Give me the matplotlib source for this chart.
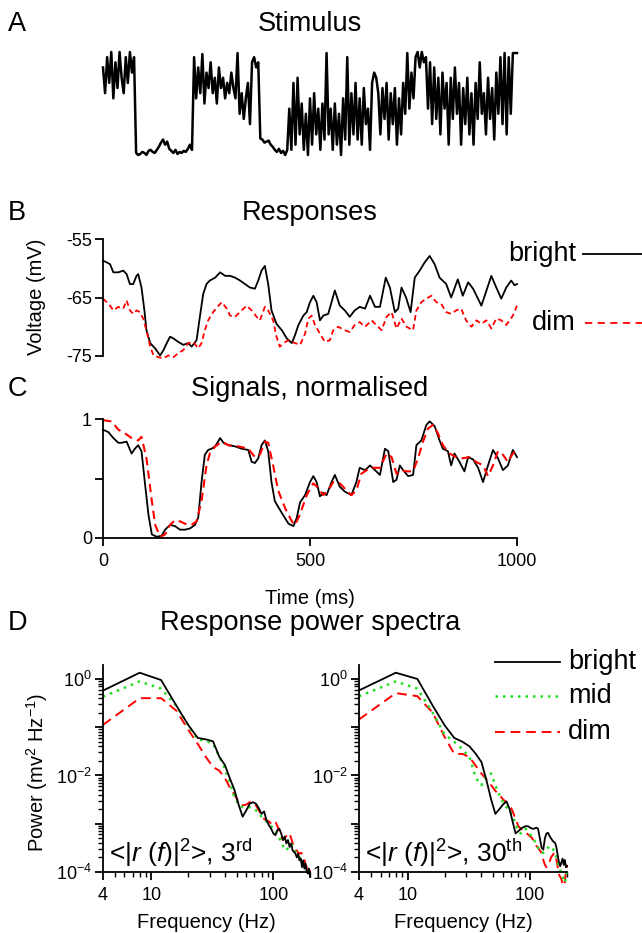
import numpy as np
import matplotlib
matplotlib.use("Agg")
import matplotlib.pyplot as plt
from matplotlib.lines import Line2D
from matplotlib.ticker import FixedLocator, NullFormatter, LogLocator

plt.rcParams['font.family'] = ['Liberation Sans', 'DejaVu Sans']
plt.rcParams['mathtext.fontset'] = 'custom'
plt.rcParams['mathtext.rm'] = 'Liberation Sans'
plt.rcParams['mathtext.it'] = 'Liberation Sans:italic'
plt.rcParams['mathtext.bf'] = 'Liberation Sans:bold'
plt.rcParams['axes.linewidth'] = 1.3

# ---------------- data ----------------
# A: stimulus (normalised intensity), sampled every 5 ms from 0 to 1000 ms
stimulus = [0.85, 0.6, 0.95, 0.7, 1.0, 0.55, 0.9, 0.65, 1.0, 0.75, 0.6, 0.95, 0.7, 1.0, 0.8, 0.95,
            0.02, 0.0, 0.01, 0.03, 0.02, 0.0, 0.04, 0.05, 0.03, 0.02, 0.05, 0.08, 0.12, 0.15, 0.1, 0.13,
            0.06, 0.04, 0.02, 0.05, 0.01, 0.03, 0.02, 0.04, 0.03, 0.06, 0.1, 0.05,
            0.95, 0.55, 0.85, 0.6, 0.98, 0.5, 0.8, 0.65, 0.9, 0.6, 0.75, 0.5, 0.85, 0.65, 0.75, 0.55,
            0.7, 0.6, 0.8, 0.65,
            0.55, 0.99, 0.4, 0.6, 0.35, 0.55, 0.7, 0.3, 0.9, 0.95, 0.85, 0.9,
            0.16, 0.15, 0.12, 0.13, 0.14, 0.1, 0.08, 0.05, 0.03, 0.06, 0.02, 0.04, 0.0, 0.05,
            0.45, 0.05, 0.7, 0.1, 0.75, 0.2, 0.5, 0.05, 0.4, 0.0,
            0.55, 0.1, 0.6, 0.2, 0.45, 0.05, 0.5, 0.15, 0.99, 0.2,
            0.45, 0.05, 0.5, 0.1, 0.4, 0.0, 0.55, 0.15, 0.95, 0.1,
            0.6, 0.2, 0.7, 0.15, 0.55, 0.1, 0.65, 0.3, 0.45, 0.05,
            0.7, 0.8, 0.75, 0.6, 0.2, 0.65, 0.35, 0.7, 0.15, 0.6,
            0.3, 0.65, 0.1, 0.55, 0.2, 0.7, 0.4, 0.99, 0.45, 0.8,
            0.55, 0.95, 1.0, 0.85, 1.0, 0.9, 0.95, 0.45, 0.9, 0.3,
            0.85, 0.35, 0.75, 0.2, 0.8, 0.45, 0.7, 0.1, 0.75, 0.35,
            0.85, 0.4, 0.7, 0.1, 0.65, 0.3, 0.75, 0.2, 0.6, 0.1,
            0.7, 0.35, 0.9, 0.4, 0.6, 0.2, 0.75, 0.35, 0.65, 0.15,
            0.8, 0.4, 0.95, 0.3, 0.99, 0.2, 0.95, 0.4, 0.99, 0.99, 0.99]

# B: responses (mV)
bright_resp_t = [0, 9, 17, 25, 37, 49, 57, 65, 73, 81, 85, 93, 100, 105, 114, 126, 138, 146, 154, 162,
                 170, 182, 194, 206, 214, 226, 234, 242, 250, 258, 271, 283, 295, 307, 319, 331, 343,
                 355, 367, 375, 383, 391, 399, 407, 419, 432, 444, 456, 464, 472, 484, 492, 500, 508,
                 516, 524, 532, 544, 560, 572, 584, 596, 608, 620, 633, 645, 657, 669, 683, 693, 705,
                 713, 721, 732, 743, 753, 765, 777, 789, 801, 813, 829, 841, 857, 869, 882, 894, 914,
                 938, 950, 962, 974, 986, 994, 1000]
bright_resp_v = [-58.7, -59.0, -59.3, -60.7, -60.7, -60.4, -61.0, -62.7, -62.7, -61.3, -61.0, -63.3,
                 -67.2, -70.6, -72.8, -73.7, -74.9, -74.0, -72.8, -71.7, -72.0, -72.6, -73.1, -72.8,
                 -73.4, -72.3, -68.3, -64.4, -62.7, -62.1, -61.6, -60.7, -61.3, -61.3, -61.6, -62.1,
                 -62.7, -63.3, -63.5, -62.1, -60.4, -59.6, -62.7, -67.2, -69.5, -70.6, -72.0, -72.8,
                 -71.4, -69.7, -68.1, -67.5, -65.8, -64.7, -65.8, -68.9, -68.1, -67.8, -63.8, -66.4,
                 -67.2, -68.3, -67.2, -66.6, -66.9, -64.7, -66.6, -66.6, -61.6, -63.3, -67.5, -66.9,
                 -63.3, -65.0, -67.5, -61.6, -60.4, -59.0, -57.9, -59.3, -61.6, -62.7, -65.0, -61.9,
                 -64.7, -62.4, -63.5, -66.4, -61.3, -63.3, -65.2, -63.3, -62.1, -62.9, -62.7]
dim_resp_t = [0, 9, 17, 25, 37, 49, 57, 65, 73, 81, 89, 97, 105, 114, 122, 134, 146, 158, 170, 182,
              194, 206, 218, 230, 238, 246, 254, 266, 279, 287, 299, 307, 319, 335, 347, 359, 371,
              379, 391, 399, 411, 419, 427, 436, 448, 464, 476, 488, 496, 504, 512, 524, 536, 548,
              556, 568, 584, 596, 608, 620, 633, 649, 657, 673, 685, 697, 709, 721, 733, 749, 757,
              769, 781, 793, 805, 817, 829, 841, 853, 865, 877, 890, 902, 914, 926, 938, 950, 962,
              974, 990, 1000]
dim_resp_v = [-65.2, -65.8, -66.4, -67.2, -66.6, -66.9, -65.5, -67.2, -67.8, -67.2, -67.5, -68.6,
              -70.6, -73.4, -74.9, -75.2, -75.4, -74.9, -75.2, -74.5, -74.0, -72.8, -72.6, -73.7,
              -72.8, -70.6, -68.9, -67.5, -66.4, -65.8, -66.9, -68.1, -68.3, -67.2, -66.4, -67.2,
              -68.3, -68.9, -66.6, -67.2, -68.9, -71.7, -73.4, -72.8, -72.3, -72.8, -73.1, -71.2,
              -68.6, -68.1, -69.7, -71.2, -72.6, -72.3, -70.6, -70.0, -70.6, -70.9, -69.7, -69.2,
              -70.0, -68.9, -69.5, -70.6, -68.3, -67.5, -70.3, -68.6, -70.0, -70.6, -67.2, -65.8,
              -65.2, -64.7, -65.8, -66.1, -67.5, -67.8, -67.2, -66.9, -68.9, -70.0, -68.9, -69.5,
              -68.9, -70.3, -68.6, -68.9, -69.7, -68.1, -66.4]

# C: normalised signals
bright_sig_t = [0, 13, 25, 37, 45, 57, 69, 77, 85, 93, 101, 110, 118, 130, 142, 150, 162, 174, 186,
                198, 210, 222, 230, 238, 246, 254, 262, 271, 283, 291, 303, 319, 335, 351, 359, 367,
                375, 383, 391, 399, 407, 415, 432, 448, 460, 468, 476, 488, 500, 508, 516, 524, 532,
                540, 552, 560, 572, 584, 600, 612, 620, 633, 645, 657, 669, 681, 689, 701, 709, 717,
                725, 737, 749, 757, 769, 781, 789, 801, 813, 821, 833, 841, 849, 861, 873, 882, 894,
                906, 918, 930, 942, 954, 966, 978, 990, 1000]
bright_sig_v = [0.91, 0.89, 0.84, 0.80, 0.80, 0.81, 0.71, 0.75, 0.78, 0.73, 0.47, 0.19, 0.03, 0.01,
                0.02, 0.07, 0.11, 0.10, 0.07, 0.07, 0.08, 0.11, 0.17, 0.47, 0.70, 0.74, 0.75, 0.77,
                0.84, 0.80, 0.78, 0.77, 0.75, 0.74, 0.64, 0.63, 0.67, 0.78, 0.82, 0.73, 0.47, 0.31,
                0.21, 0.12, 0.10, 0.17, 0.30, 0.36, 0.47, 0.52, 0.47, 0.35, 0.38, 0.36, 0.47, 0.53,
                0.43, 0.39, 0.36, 0.47, 0.59, 0.57, 0.61, 0.57, 0.53, 0.75, 0.73, 0.47, 0.49, 0.61,
                0.57, 0.52, 0.53, 0.78, 0.82, 0.95, 0.98, 0.94, 0.82, 0.75, 0.73, 0.61, 0.71, 0.64,
                0.56, 0.68, 0.66, 0.59, 0.47, 0.61, 0.74, 0.67, 0.57, 0.61, 0.74, 0.68]
dim_sig_t = [0, 21, 37, 53, 69, 85, 93, 105, 118, 126, 138, 150, 162, 174, 186, 198, 214, 226, 238,
             250, 258, 271, 287, 303, 327, 351, 367, 379, 391, 399, 411, 423, 440, 456, 464, 476,
             492, 508, 520, 532, 544, 556, 572, 588, 600, 612, 624, 637, 653, 669, 685, 697, 709,
             721, 733, 749, 761, 773, 785, 797, 809, 821, 837, 853, 869, 885, 901, 918, 930, 942,
             954, 966, 978, 990, 1000]
dim_sig_v = [0.99, 0.98, 0.91, 0.88, 0.84, 0.82, 0.85, 0.67, 0.31, 0.11, 0.01, 0.03, 0.11, 0.15,
             0.14, 0.12, 0.11, 0.14, 0.31, 0.61, 0.71, 0.77, 0.81, 0.78, 0.77, 0.75, 0.68, 0.70,
             0.81, 0.80, 0.61, 0.40, 0.25, 0.14, 0.11, 0.20, 0.36, 0.46, 0.42, 0.36, 0.40, 0.47,
             0.46, 0.40, 0.36, 0.40, 0.54, 0.57, 0.59, 0.59, 0.71, 0.68, 0.54, 0.57, 0.56, 0.56,
             0.67, 0.81, 0.92, 0.95, 0.88, 0.78, 0.71, 0.68, 0.67, 0.68, 0.64, 0.61, 0.52, 0.61,
             0.73, 0.70, 0.64, 0.71, 0.74]

# D: power spectra (mV^2/Hz) at 4, 8, ..., 200 Hz
freq = [4, 8, 12, 16, 20, 24, 28, 32, 36, 40, 44, 48, 52, 56, 60, 64, 68, 72, 76, 80, 84, 88, 92, 96,
        100, 104, 108, 112, 116, 120, 124, 128, 132, 136, 140, 144, 148, 152, 156, 160, 164, 168,
        172, 176, 180, 184, 188, 192, 196, 200]
bright_3rd = [0.575, 1.35, 0.95, 0.28, 0.112, 0.060, 0.056, 0.051, 0.0245, 0.0166, 0.0087, 0.0050,
              0.00245, 0.0014, 0.0019, 0.0026, 0.0028, 0.0026, 0.0021, 0.0016, 0.0018, 0.00117,
              0.00093, 0.00079, 0.00063, 0.00058, 0.00074, 0.00079, 0.00063, 0.00046, 0.00054,
              0.00039, 0.00046, 0.00033, 0.00039, 0.00028, 0.00026, 0.00024, 0.00020, 0.00024,
              0.000174, 0.00019, 0.000126, 0.000174, 0.000117, 0.000148, 0.0001, 0.000093,
              0.000117, 0.000079]
mid_3rd = [0.43, 0.89, 0.63, 0.28, 0.11, 0.056, 0.052, 0.045, 0.025, 0.014, 0.0071, 0.0035, 0.0025,
           0.0022, 0.0022, 0.0022, 0.0021, 0.0019, 0.00166, 0.0014, 0.00126, 0.00112, 0.001,
           0.00089, 0.00079, 0.00071, 0.0006, 0.0005, 0.00042, 0.00035, 0.0003, 0.00028, 0.00032,
           0.00035, 0.00038, 0.00035, 0.00032, 0.00026, 0.00024, 0.00022, 0.0002, 0.00018,
           0.000166, 0.00015, 0.000138, 0.000126, 0.000112, 0.000105, 0.0001, 0.000089]
dim_3rd = [0.112, 0.40, 0.40, 0.22, 0.089, 0.045, 0.024, 0.015, 0.0126, 0.0089, 0.0056, 0.004,
           0.0028, 0.0024, 0.0025, 0.0028, 0.0028, 0.0024, 0.0019, 0.0015, 0.00126, 0.00117,
           0.00112, 0.001, 0.00105, 0.00112, 0.00089, 0.00071, 0.00056, 0.00046, 0.0005, 0.00056,
           0.00063, 0.00063, 0.0005, 0.0004, 0.00032, 0.00028, 0.00028, 0.00025, 0.00024, 0.00025,
           0.00024, 0.00022, 0.000178, 0.000141, 0.000126, 0.00012, 0.000132, 0.0001]
bright_30th = [0.58, 1.35, 1.0, 0.28, 0.11, 0.06, 0.05, 0.04, 0.028, 0.019, 0.0079, 0.0032, 0.0016,
               0.002, 0.0025, 0.0029, 0.002, 0.0011, 0.00063, 0.0007, 0.00079, 0.00085, 0.00089,
               0.00089, 0.00083, 0.00079, 0.00079, 0.00083, 0.00079, 0.0005, 0.00032, 0.00029,
               0.0005, 0.00063, 0.00065, 0.00056, 0.0005, 0.00045, 0.00042, 0.0004, 0.00032,
               0.00022, 0.000158, 0.000132, 0.000158, 0.00019, 0.000141, 0.000178, 0.000126,
               0.000132]
mid_30th = [0.44, 0.89, 0.63, 0.2, 0.071, 0.05, 0.035, 0.024, 0.0089, 0.0063, 0.01, 0.011, 0.0063,
            0.004, 0.0028, 0.0022, 0.0019, 0.0014, 0.001, 0.0007, 0.00063, 0.0007, 0.00079, 0.0007,
            0.0006, 0.00052, 0.00045, 0.00038, 0.00032, 0.00028, 0.00025, 0.00025, 0.00026,
            0.00028, 0.00032, 0.00034, 0.00034, 0.00032, 0.00028, 0.00025, 0.0002, 0.000158,
            0.000126, 0.000112, 0.000089, 0.000079, 0.000071, 0.00006, 0.000079, 0.000112]
dim_30th = [0.145, 0.51, 0.44, 0.2, 0.063, 0.028, 0.028, 0.024, 0.0158, 0.011, 0.0083, 0.0063,
            0.0048, 0.004, 0.0032, 0.0028, 0.0025, 0.0018, 0.00126, 0.00089, 0.00079, 0.0007,
            0.00066, 0.0006, 0.00055, 0.0005, 0.00042, 0.00035, 0.00032, 0.00028, 0.00025,
            0.000178, 0.000141, 0.000126, 0.000132, 0.000158, 0.0002, 0.00022, 0.00024, 0.00024,
            0.000178, 0.000126, 0.000089, 0.000079, 0.000071, 0.000056, 0.000052, 0.000063,
            0.0001, 0.000141]

# ---------------- layout helpers (pixel -> figure fraction) ----------------
W, H = 642, 933
def fx(px):
    return px / W
def fy(py):
    return 1 - py / H
def rect(x0, y0, x1, y1):
    return [fx(x0), fy(y1), (x1 - x0) / W, (y1 - y0) / H]

fig = plt.figure(figsize=(W / 100, H / 100), dpi=100)

BLACK = 'black'
RED = '#ff0000'
GREEN = '#22dd22'
TITLE_FS = 19.5
TICK_FS = 13
LABEL_FS = 14.5

def title(text, y):
    fig.text(fx(310), fy(y), text, ha='center', va='center', fontsize=TITLE_FS)

def letter(text, y):
    fig.text(fx(8), fy(y), text, ha='left', va='center', fontsize=TITLE_FS)

# ---------------- A ----------------
axA = fig.add_axes(rect(103, 52, 517, 155))
t_stim = np.arange(len(stimulus)) * 1000.0 / (len(stimulus) - 1)
axA.plot(t_stim, stimulus, color=BLACK, lw=1.8, clip_on=False)
axA.set_xlim(0, 1000)
axA.set_ylim(0, 1)
axA.axis('off')
letter('A', 24)
title('Stimulus', 24)

# ---------------- B ----------------
axB = fig.add_axes(rect(103, 239, 517, 356))
axB.plot(bright_resp_t, bright_resp_v, color=BLACK, lw=1.3, clip_on=False)
axB.plot(dim_resp_t, dim_resp_v, color=RED, lw=1.3, ls=(0, (3, 2)), clip_on=False)
axB.set_xlim(0, 1000)
axB.set_ylim(-75, -55)
for s in ['top', 'right', 'bottom']:
    axB.spines[s].set_visible(False)
axB.set_xticks([])
axB.set_yticks([-75, -65, -55])
axB.set_yticklabels(['-75', '-65', '-55'])
axB.tick_params(axis='y', direction='out', length=6, width=1.3, labelsize=TICK_FS, pad=2)
letter('B', 213)
title('Responses', 213)
fig.text(fx(37), fy(297), 'Voltage (mV)', rotation=90, ha='center', va='center', fontsize=LABEL_FS)
# legend for B
fig.text(fx(576), fy(254), 'bright', ha='right', va='center', fontsize=TITLE_FS)
fig.add_artist(Line2D([fx(583), fx(645)], [fy(254), fy(254)], color=BLACK, lw=1.3,
                      transform=fig.transFigure))
fig.text(fx(576), fy(323), 'dim', ha='right', va='center', fontsize=TITLE_FS)
fig.add_artist(Line2D([fx(585), fx(645)], [fy(323), fy(323)], color=RED, lw=1.3,
                      ls=(0, (4, 3)), transform=fig.transFigure))

# ---------------- C ----------------
axC = fig.add_axes(rect(103, 419, 517, 538))
axC.plot(bright_sig_t, bright_sig_v, color=BLACK, lw=1.3, clip_on=False)
axC.plot(dim_sig_t, dim_sig_v, color=RED, lw=1.5, ls=(0, (4, 2.5)), clip_on=False)
axC.set_xlim(0, 1000)
axC.set_ylim(0, 1)
for s in ['top', 'right']:
    axC.spines[s].set_visible(False)
axC.set_yticks([0, 0.5, 1])
axC.set_yticklabels(['0', '', '1'])
axC.set_xticks([0, 500, 1000])
axC.set_xticklabels(['0', '500', '1000'])
axC.tick_params(axis='both', direction='out', length=6, width=1.3, labelsize=TICK_FS)
axC.tick_params(axis='y', pad=2)
axC.tick_params(axis='x', pad=4.5)
letter('C', 389)
title('Signals, normalised', 389)
fig.text(fx(310), fy(598), 'Time (ms)', ha='center', va='center', fontsize=LABEL_FS)

# ---------------- D ----------------
letter('D', 623)
title('Response power spectra', 623)

def spectrum_axes(x0, x1, b, m, d, label):
    ax = fig.add_axes(rect(x0, 665, x1, 872))
    ax.plot(freq, b, color=BLACK, lw=1.3, clip_on=False, zorder=3)
    ax.plot(freq, m, color=GREEN, lw=1.8, ls=(0, (1, 2)), clip_on=False, zorder=2)
    ax.plot(freq, d, color=RED, lw=1.4, ls=(0, (5, 3)), clip_on=False, zorder=1)
    ax.set_xscale('log')
    ax.set_yscale('log')
    ax.set_xlim(4, 200)
    ax.set_ylim(1e-4, 10 ** 0.29)
    for s in ['top', 'right']:
        ax.spines[s].set_visible(False)
    ax.xaxis.set_major_locator(FixedLocator([4, 10, 100]))
    ax.set_xticklabels(['4', '10', '100'])
    ax.xaxis.set_minor_locator(FixedLocator([5, 6, 7, 8, 9, 20, 30, 40, 50, 60, 70, 80, 90, 200]))
    ax.xaxis.set_minor_formatter(NullFormatter())
    ax.yaxis.set_major_locator(FixedLocator([1e-4, 1e-3, 1e-2, 1e-1, 1]))
    ax.set_yticklabels(['$10^{-4}$', '', '$10^{-2}$', '', '$10^{0}$'])
    ax.yaxis.set_minor_locator(LogLocator(base=10, subs=np.arange(2, 10), numticks=20))
    ax.yaxis.set_minor_formatter(NullFormatter())
    ax.tick_params(axis='both', which='major', direction='out', length=6, width=1.3,
                   labelsize=TICK_FS)
    ax.tick_params(axis='both', which='minor', direction='out', length=3.5, width=1.0)
    ax.tick_params(axis='y', which='major', pad=2)
    ax.tick_params(axis='x', which='major', pad=5)
    ax.text(0.03, 0.015, label, transform=ax.transAxes, ha='left', va='bottom',
            fontsize=19)
    fig.text(fx((x0 + x1) / 2), fy(922), 'Frequency (Hz)', ha='center', va='center',
             fontsize=LABEL_FS)
    return ax

spectrum_axes(103, 310, bright_3rd, mid_3rd, dim_3rd,
              r'<|$\mathit{r}$ ($\mathit{f}$)|$^{2}$>, 3$^{\mathrm{rd}}$')
spectrum_axes(359, 567, bright_30th, mid_30th, dim_30th,
              r'<|$\mathit{r}$ ($\mathit{f}$)|$^{2}$>, 30$^{\mathrm{th}}$')
fig.text(fx(37), fy(772), 'Power (mv$^{2}$ Hz$^{-1}$)', rotation=90, ha='center', va='center',
         fontsize=LABEL_FS)

# legend for D
for label, y, col, ls, lw in [('bright', 662, BLACK, '-', 1.3),
                              ('mid', 696, GREEN, (0, (1, 2)), 1.8),
                              ('dim', 732, RED, (0, (5, 3)), 1.4)]:
    fig.add_artist(Line2D([fx(495), fx(560)], [fy(y), fy(y)], color=col, lw=lw, ls=ls,
                          transform=fig.transFigure))
    fig.text(fx(568), fy(y), label, ha='left', va='center', fontsize=TITLE_FS)

fig.savefig('out.png', dpi=100)
